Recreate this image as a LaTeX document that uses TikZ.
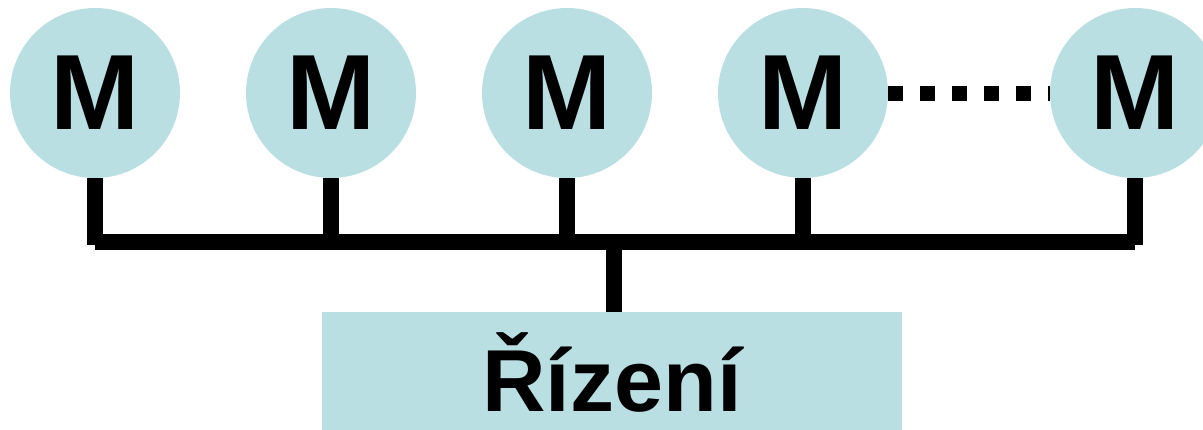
\documentclass[tikz,border=0pt]{standalone}
\usepackage{fontspec}
\setmainfont{Liberation Sans}
\definecolor{lb}{RGB}{186,223,227}
\begin{document}
\begin{tikzpicture}[x=1pt,y=-1pt,
  motor/.style={circle,fill=lb,minimum size=170pt,inner sep=0pt,font=\fontsize{107}{107}\selectfont\bfseries},
  ctrlbox/.style={rectangle,fill=lb,minimum width=580pt,minimum height=120pt,inner sep=0pt,font=\fontsize{88}{88}\selectfont\bfseries},
  wire/.style={line width=16pt}]
\useasboundingbox (0,0) rectangle (1203,429);
\clip (0,0) rectangle (1203,429);
\node[motor] (m1) at (95,93) {M};
\node[motor] (m2) at (331,93) {M};
\node[motor] (m3) at (567,93) {M};
\node[motor] (m4) at (803,93) {M};
\node[motor] (m5) at (1135,93) {M};
\node[ctrlbox] (ctrl) at (612,372) {Řízení};
\coordinate (b1) at (95,245);
\coordinate (b2) at (331,245);
\coordinate (b3) at (567,245);
\coordinate (b4) at (803,245);
\coordinate (b5) at (1135,245);
\coordinate (l1) at (95,241.5);
\coordinate (l5) at (1135,241.5);
\coordinate (bc) at (614,241.5);
\foreach \i in {1,...,5} {\draw[wire] (m\i.south) -- (b\i);}
\draw[wire] (l1) -- (l5);
\draw[wire] (bc) -- (ctrl.north -| bc);
\draw[line width=15pt,dash pattern=on 15pt off 17pt] (m4.east) -- (m5.west);
\end{tikzpicture}
\end{document}
